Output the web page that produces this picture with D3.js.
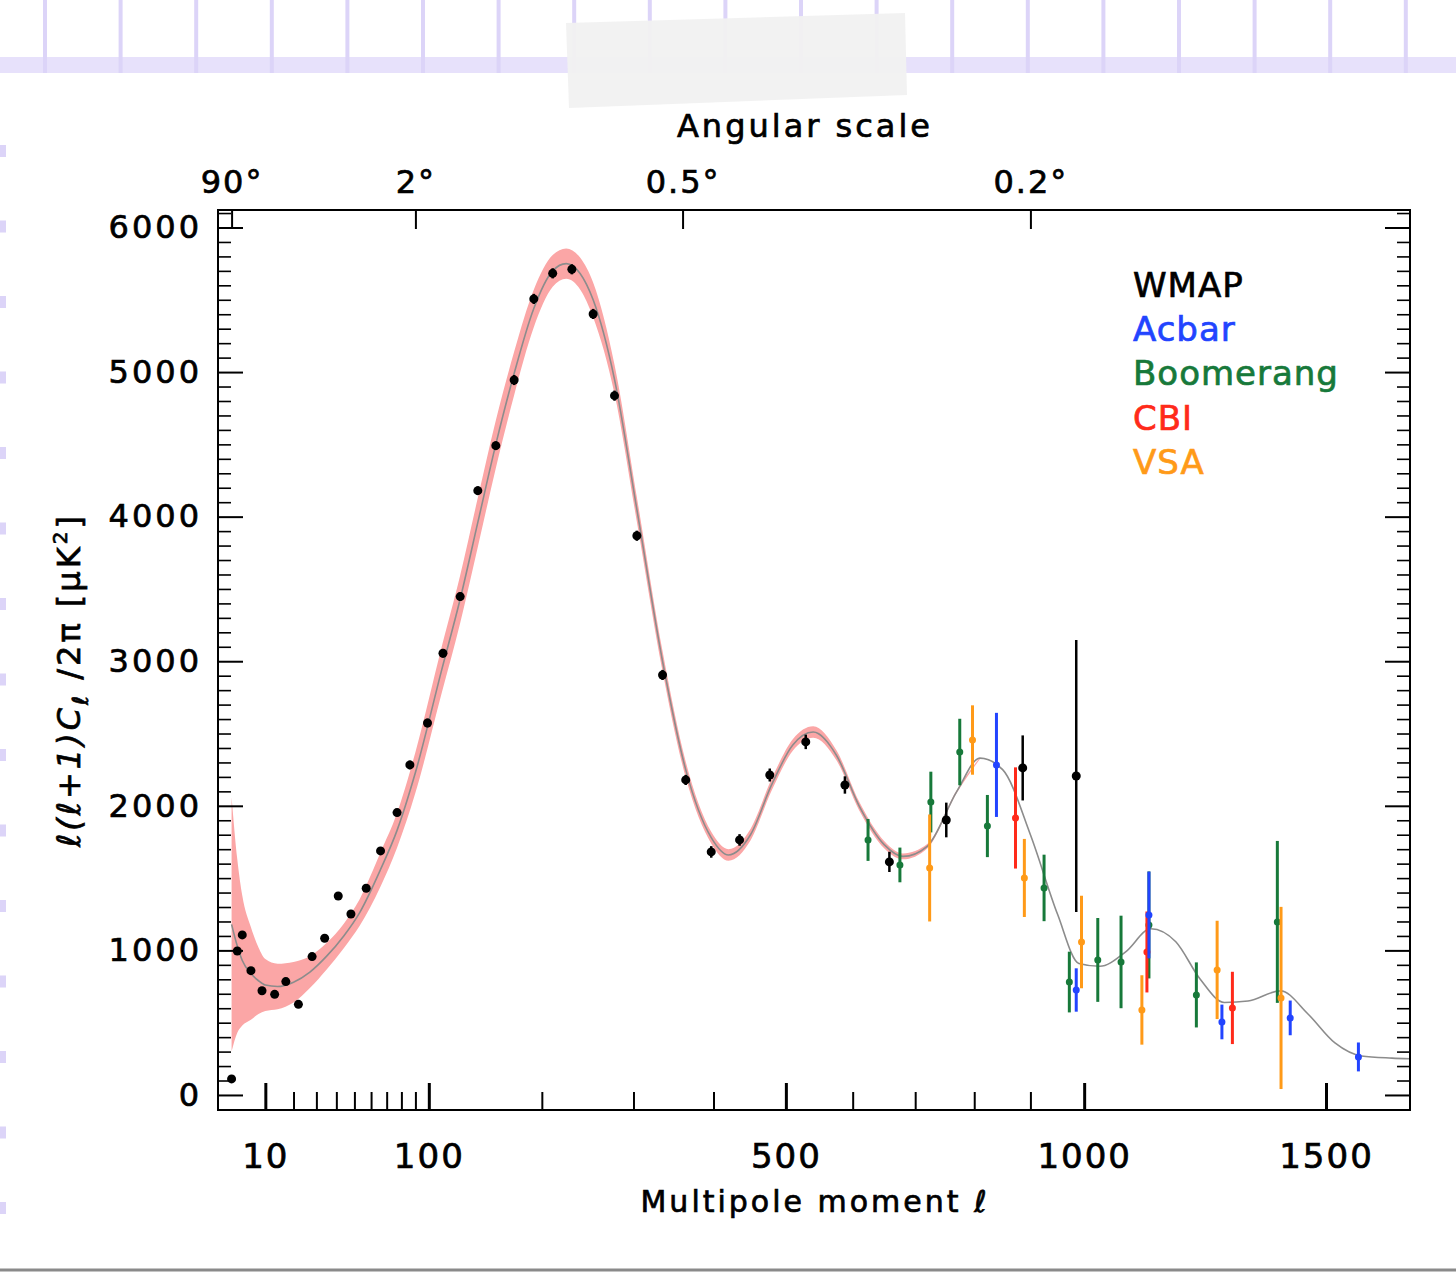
<!DOCTYPE html>
<html>
<head>
<meta charset="utf-8">
<script src="https://cdn.jsdelivr.net/npm/d3@7"></script>
<style>
  body { margin: 0; background: #fff; }
  svg { display: block; }
  text { font-family: "DejaVu Sans", sans-serif; stroke-width: 0.7px; }
</style>
</head>
<body>
<svg id="chart" width="1456" height="1274"></svg>
<script>
// ── data ──────────────────────────────────────────────────
// WMAP binned points (multipole, value, error)
const wmapL = [2,3,4,6,9,13,17,22,28,34,41,48,57,66,77,86,99,111,125,140,156,173,192,211,231,254,278,304,335,364,397,435,477,529,588,658,752,886,985];
const wmapV = [111,996,1107,860,721,696,784,627,957,1084,1376,1252,1430,1688,1953,2283,2573,3055,3447,4180,4491,4945,5506,5683,5711,5402,4837,3868,2905,2179,1681,1764,2213,2442,2144,1612,1902,2262,2206];
const wmapE = [15,20,20,20,20,20,20,20,25,25,25,25,25,25,25,30,30,30,30,30,30,35,35,35,35,35,35,35,35,35,40,40,45,50,60,70,120,225,940];

const acbarL = [839,985,1126,1275,1421,1573];
const acbarV = [2283,726,1245,505,533,263];
const acbarE = [360,150,300,120,120,100];

const boomL = [624,675,726,775,823,925,972,1026,1071,1126,1222,1393];
const boomV = [1764,1591,2026,2372,1860,1432,781,934,920,1176,692,1197];
const boomE = [145,120,210,230,215,230,210,290,320,370,225,560];

const cbiL = [873,1122,1297];
const cbiV = [1916,989,602];
const cbiE = [350,280,250];

const vsaL = [724,797,889,995,1112,1265,1401];
const vsaV = [1570,2455,1501,1058,588,865,671];
const vsaE = [370,240,270,320,240,340,630];

// best-fit model curve and its band half-width (band only up to l=810)
const modelL = [2,3,4,6,8,10,14,20,27,35,44,53,66,77,90,110,125,140,156,173,192,211,225,240,254,278,304,335,364,397,420,450,480,510,540,575,610,650,680,720,770,810,850,900,950,990,1030,1080,1130,1180,1230,1280,1330,1400,1460,1520,1580,1650,1692];
const modelV = [1180,1030,930,840,790,760,750,780,850,960,1100,1260,1560,1830,2230,2940,3430,3960,4500,4990,5440,5700,5750,5680,5500,4950,4050,3000,2250,1780,1660,1800,2150,2420,2510,2350,2000,1730,1650,1720,2100,2330,2250,1800,1250,910,890,990,1150,1060,800,640,650,720,560,360,270,255,250];
const bandHalf = [880,600,450,320,230,180,158,140,110,92,85,92,118,120,140,160,165,170,165,150,130,110,105,110,120,100,85,70,55,40,40,40,40,40,40,35,30,25,20,15,10,6];

// axis ticks
const xMajor = [10,100,500,1000,1500];
const xMinor = [20,30,40,50,60,70,80,90,200,300,400,600,700,800,900];
const angL = [2,90,360,900];
const angLabels = ["90°","2°","0.5°","0.2°"];
const yMajor = [0,1000,2000,3000,4000,5000,6000];
const yMinor = d3.range(0, 6101, 100).filter(v => v % 1000 !== 0);

const legendNames = ["WMAP","Acbar","Boomerang","CBI","VSA"];
const legendColors = ["#000000","#2244ff","#17793a","#ff2a1a","#ff9a18"];

// ── layout ───────────────────────────────────────────────
const L = 218, R = 1410, T = 210, B = 1110;
const svg = d3.select("#chart");

// notebook paper background bits
const deco = svg.append("g");
deco.append("rect").attr("x",0).attr("y",57).attr("width",1456).attr("height",16).attr("fill","#e7e1fb");
d3.range(19).forEach(i =>
  deco.append("line").attr("x1",45+i*75.6).attr("x2",45+i*75.6).attr("y1",0).attr("y2",73)
    .attr("stroke","#dcd4f8").attr("stroke-width",4));
d3.range(15).forEach(i =>
  deco.append("rect").attr("x",0).attr("y",145+i*75.5).attr("width",6).attr("height",12).attr("fill","#dcd4f8"));
deco.append("polygon").attr("points","566,23 905,13 907,95 569,108").attr("fill","#f1f1f1").attr("opacity",0.95);
deco.append("line").attr("x1",0).attr("x2",1456).attr("y1",1270).attr("y2",1270).attr("stroke","#8a8a8a").attr("stroke-width",3);

// scales
const x = d3.scalePow().exponent(0.603).domain([0,1692]).range([211,R]);
const y = d3.scaleLinear().domain([-104,6121]).range([B,T]);

svg.append("clipPath").attr("id","clip")
  .append("rect").attr("x",L).attr("y",T).attr("width",R-L).attr("height",B-T);
const plot = svg.append("g").attr("clip-path","url(#clip)");

// model band + line
const band = modelL.slice(0, bandHalf.length).map((l,i) => ({l, v: modelV[i], h: bandHalf[i]}));
plot.append("path").datum(band)
  .attr("d", d3.area().x(d => x(d.l)).y0(d => y(d.v - d.h)).y1(d => y(d.v + d.h)).curve(d3.curveMonotoneX))
  .attr("fill","#fba6a6");
plot.append("path").datum(modelL.map((l,i) => ({l, v: modelV[i]})))
  .attr("d", d3.line().x(d => x(d.l)).y(d => y(d.v)).curve(d3.curveMonotoneX))
  .attr("fill","none").attr("stroke","#8c8c8c").attr("stroke-width",1.6);

// data series, WMAP drawn last
const series = [
  {L: boomL,  V: boomV,  E: boomE,  c: legendColors[2], r: 3.5, w: 3},
  {L: vsaL,   V: vsaV,   E: vsaE,   c: legendColors[4], r: 3.5, w: 3},
  {L: cbiL,   V: cbiV,   E: cbiE,   c: legendColors[3], r: 3.5, w: 3},
  {L: acbarL, V: acbarV, E: acbarE, c: legendColors[1], r: 3.5, w: 3},
  {L: wmapL,  V: wmapV,  E: wmapE,  c: legendColors[0], r: 4.5, w: 2.5}
];
series.forEach(s => {
  const pts = s.L.map((l,i) => ({l, v: s.V[i], e: s.E[i]}));
  const g = plot.append("g");
  g.selectAll("line").data(pts).join("line")
    .attr("x1", d => x(d.l)).attr("x2", d => x(d.l))
    .attr("y1", d => y(d.v - d.e)).attr("y2", d => y(d.v + d.e))
    .attr("stroke", s.c).attr("stroke-width", s.w);
  g.selectAll("circle").data(pts).join("circle")
    .attr("cx", d => x(d.l)).attr("cy", d => y(d.v)).attr("r", s.r)
    .attr("fill", s.c);
});

// ── axes ─────────────────────────────────────────────────
function style(g, w, fs, ls) {
  g.select(".domain").remove();
  g.attr("font-family", null).attr("font-size", null);
  g.selectAll(".tick line").attr("stroke","#000").attr("stroke-width", w);
  g.selectAll(".tick text").attr("fill","#000").attr("stroke","#000")
    .attr("font-size", fs).attr("letter-spacing", ls);
}
svg.append("g").attr("transform",`translate(0,${B})`)
  .call(d3.axisBottom(x).tickValues(xMajor).tickSize(-27).tickPadding(34).tickFormat(d3.format("d")))
  .call(g => style(g, 3, 34, 2));
svg.append("g").attr("transform",`translate(0,${B})`)
  .call(d3.axisBottom(x).tickValues(xMinor).tickSize(-18).tickFormat(""))
  .call(g => style(g, 2, 0, 0));
svg.append("g").attr("transform",`translate(0,${T})`)
  .call(d3.axisTop(x).tickValues(angL).tickSize(-19).tickPadding(17).tickFormat((d,i) => angLabels[i]))
  .call(g => style(g, 2, 32, 2));

svg.append("g").attr("transform",`translate(${L},0)`)
  .call(d3.axisLeft(y).tickValues(yMajor).tickSize(-25).tickPadding(16).tickFormat(d3.format("d")))
  .call(g => style(g, 2, 32, 3));
svg.append("g").attr("transform",`translate(${L},0)`)
  .call(d3.axisLeft(y).tickValues(yMinor).tickSize(-13).tickFormat(""))
  .call(g => style(g, 1.6, 0, 0));
svg.append("g").attr("transform",`translate(${R},0)`)
  .call(d3.axisRight(y).tickValues(yMajor).tickSize(-25).tickFormat(""))
  .call(g => style(g, 2, 0, 0));
svg.append("g").attr("transform",`translate(${R},0)`)
  .call(d3.axisRight(y).tickValues(yMinor).tickSize(-13).tickFormat(""))
  .call(g => style(g, 1.6, 0, 0));

// frame
svg.append("rect").attr("x",L).attr("y",T).attr("width",R-L).attr("height",B-T)
  .attr("fill","none").attr("stroke","#000").attr("stroke-width",2);

// titles
svg.append("text").attr("x",805).attr("y",137).attr("text-anchor","middle")
  .attr("font-size",32).attr("letter-spacing",3).attr("stroke","#000").text("Angular scale");
svg.append("text").attr("x",815).attr("y",1212).attr("text-anchor","middle")
  .attr("font-size",30).attr("letter-spacing",3).attr("stroke","#000").text("Multipole moment ℓ");

const ylab = svg.append("text").attr("transform","translate(80,680) rotate(-90)")
  .attr("text-anchor","middle").attr("font-size",32).attr("letter-spacing",3).attr("stroke","#000");
ylab.append("tspan").attr("font-style","italic").text("ℓ(ℓ+1)C");
ylab.append("tspan").attr("font-size",22).attr("dy",8).attr("font-style","italic").text("ℓ");
ylab.append("tspan").attr("dy",-8).text(" /2π [μK");
ylab.append("tspan").attr("font-size",20).attr("dy",-13).text("2");
ylab.append("tspan").attr("dy",13).text("]");

// legend
svg.append("g").selectAll("text").data(legendNames).join("text")
  .attr("x",1133).attr("y",(d,i) => 297 + i*44.2)
  .attr("font-size",34).attr("letter-spacing",1)
  .attr("fill",(d,i) => legendColors[i]).attr("stroke",(d,i) => legendColors[i])
  .text(d => d);
</script>
</body>
</html>
